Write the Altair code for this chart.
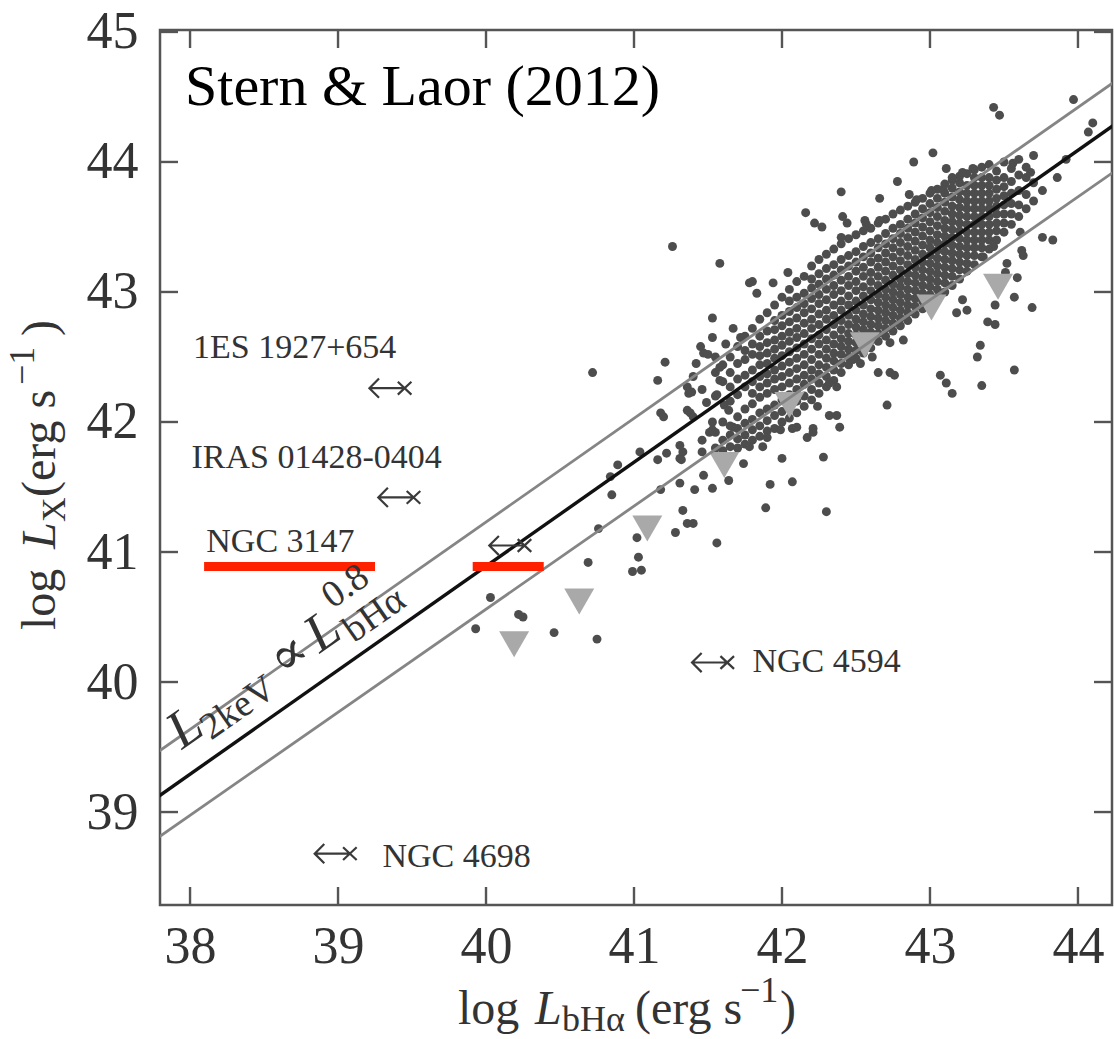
import altair as alt
import pandas as pd

SERIF = "Liberation Serif, DejaVu Serif, serif"

# ---------------- data ----------------
X_TICKS = [38, 39, 40, 41, 42, 43, 44]
Y_TICKS = [39, 40, 41, 42, 43, 44, 45]
X_DOMAIN = [37.797, 44.23]
Y_DOMAIN = [38.285, 45.015]

# fitted relation and its scatter band (end points)
FIT_X = [37.78, 44.25]
FIT_MID = [39.115, 44.29]
FIT_UP = [39.46, 44.62]
FIT_LO = [38.80, 43.93]

# upper limits (grey downward triangles)
TRI_X = [40.19, 40.63, 41.09, 41.61, 42.05, 42.56, 43.01, 43.46]
TRI_Y = [40.29, 40.62, 41.18, 41.67, 42.13, 42.59, 42.88, 43.04]

# named objects (x marks with left arrows)
OBJ_NAMES = ["1ES 1927+654", "IRAS 01428-0404", "NGC 3147", "NGC 4594", "NGC 4698"]
OBJ_X = [39.45, 39.51, 40.26, 41.63, 39.08]
OBJ_Y = [42.26, 41.42, 41.05, 40.15, 38.68]
OBJ_LABEL_X = [38.02, 38.01, 38.11, 41.80, 39.30]
OBJ_LABEL_Y = [42.49, 41.646, 41.00, 40.08, 38.58]

# red highlight bars
RED_X1 = [38.095, 39.91]
RED_X2 = [39.25, 40.39]
RED_Y = [40.888, 40.888]

# dense core of the AGN sample: (log L_bHa, [log L_X ...])
CORE = [
    (41.55, [41.80, 41.92, 42.20, 42.38]),
    (41.60, [41.78, 41.86, 42.00, 42.31, 42.44]),
    (41.65, [41.81, 41.90, 41.97, 42.16, 42.27, 42.50]),
    (41.70, [41.80, 41.87, 41.95, 42.04, 42.21, 42.33, 42.45, 42.58]),
    (41.75, [41.83, 41.90, 41.99, 42.10, 42.27, 42.36, 42.48, 42.55, 42.66]),
    (41.80, [41.86, 41.94, 42.02, 42.14, 42.22, 42.31, 42.40, 42.52, 42.60, 42.72]),
    (41.85, [41.89, 41.97, 42.07, 42.19, 42.27, 42.35, 42.44, 42.51, 42.58, 42.66, 42.79]),
    (41.90, [41.93, 42.01, 42.10, 42.22, 42.30, 42.37, 42.45, 42.53, 42.61, 42.70, 42.84]),
    (41.95, [41.95, 42.05, 42.13, 42.25, 42.33, 42.40, 42.49, 42.56, 42.63, 42.71, 42.78, 42.90]),
    (42.00, [42.00, 42.08, 42.17, 42.27, 42.35, 42.43, 42.51, 42.59, 42.66, 42.74, 42.82, 42.96]),
    (42.05, [42.03, 42.12, 42.21, 42.30, 42.38, 42.46, 42.54, 42.62, 42.69, 42.77, 42.85, 42.93, 43.02]),
    (42.10, [42.07, 42.16, 42.25, 42.33, 42.41, 42.49, 42.57, 42.65, 42.72, 42.80, 42.88, 42.96, 43.08]),
    (42.15, [42.12, 42.20, 42.29, 42.36, 42.44, 42.52, 42.60, 42.68, 42.76, 42.84, 42.91, 42.99, 43.12]),
    (42.20, [42.17, 42.25, 42.33, 42.40, 42.48, 42.56, 42.64, 42.72, 42.79, 42.87, 42.95, 43.03, 43.10, 43.20]),
    (42.25, [42.22, 42.30, 42.37, 42.44, 42.52, 42.60, 42.67, 42.75, 42.83, 42.91, 42.98, 43.06, 43.14, 43.25]),
    (42.30, [42.27, 42.35, 42.42, 42.49, 42.56, 42.63, 42.71, 42.79, 42.86, 42.94, 43.02, 43.10, 43.18, 43.29]),
    (42.35, [42.32, 42.40, 42.47, 42.53, 42.60, 42.67, 42.75, 42.82, 42.90, 42.98, 43.05, 43.13, 43.21, 43.33]),
    (42.40, [42.38, 42.45, 42.52, 42.58, 42.64, 42.71, 42.78, 42.86, 42.93, 43.01, 43.09, 43.17, 43.25, 43.37]),
    (42.45, [42.44, 42.50, 42.56, 42.62, 42.68, 42.75, 42.82, 42.90, 42.97, 43.05, 43.12, 43.20, 43.28, 43.41]),
    (42.50, [42.49, 42.55, 42.61, 42.67, 42.73, 42.79, 42.86, 42.93, 43.01, 43.08, 43.16, 43.23, 43.31, 43.44]),
    (42.55, [42.53, 42.59, 42.65, 42.71, 42.77, 42.83, 42.90, 42.97, 43.04, 43.12, 43.19, 43.27, 43.35, 43.47]),
    (42.60, [42.57, 42.63, 42.69, 42.75, 42.81, 42.87, 42.94, 43.01, 43.08, 43.15, 43.23, 43.30, 43.38, 43.49]),
    (42.65, [42.62, 42.68, 42.74, 42.80, 42.86, 42.92, 42.98, 43.05, 43.12, 43.19, 43.26, 43.34, 43.41, 43.53]),
    (42.70, [42.66, 42.72, 42.78, 42.84, 42.90, 42.96, 43.02, 43.09, 43.16, 43.23, 43.30, 43.37, 43.45, 43.56]),
    (42.75, [42.70, 42.76, 42.82, 42.88, 42.94, 43.00, 43.06, 43.13, 43.20, 43.27, 43.34, 43.41, 43.49, 43.60]),
    (42.80, [42.74, 42.80, 42.86, 42.92, 42.98, 43.04, 43.10, 43.17, 43.24, 43.31, 43.38, 43.45, 43.52, 43.63]),
    (42.85, [42.78, 42.84, 42.90, 42.96, 43.02, 43.08, 43.14, 43.21, 43.28, 43.35, 43.42, 43.49, 43.56, 43.66]),
    (42.90, [42.83, 42.89, 42.95, 43.01, 43.07, 43.13, 43.19, 43.25, 43.32, 43.39, 43.46, 43.53, 43.60, 43.69]),
    (42.95, [42.87, 42.93, 42.99, 43.05, 43.11, 43.17, 43.23, 43.29, 43.36, 43.43, 43.50, 43.57, 43.64, 43.72]),
    (43.00, [42.92, 42.98, 43.04, 43.10, 43.16, 43.22, 43.28, 43.34, 43.40, 43.47, 43.54, 43.61, 43.68, 43.76]),
    (43.05, [42.96, 43.02, 43.08, 43.14, 43.20, 43.26, 43.32, 43.38, 43.44, 43.51, 43.58, 43.65, 43.72, 43.79]),
    (43.10, [43.00, 43.07, 43.13, 43.19, 43.25, 43.31, 43.37, 43.43, 43.49, 43.55, 43.62, 43.69, 43.76, 43.83]),
    (43.15, [43.05, 43.12, 43.18, 43.24, 43.30, 43.36, 43.42, 43.48, 43.54, 43.60, 43.66, 43.73, 43.80, 43.86]),
    (43.20, [43.10, 43.17, 43.23, 43.29, 43.35, 43.41, 43.47, 43.53, 43.59, 43.65, 43.71, 43.77, 43.84, 43.89]),
    (43.25, [43.16, 43.22, 43.28, 43.34, 43.40, 43.46, 43.52, 43.58, 43.64, 43.70, 43.76, 43.82, 43.91]),
    (43.30, [43.21, 43.28, 43.34, 43.40, 43.46, 43.52, 43.58, 43.64, 43.70, 43.76, 43.82, 43.88, 43.94]),
    (43.35, [43.27, 43.34, 43.40, 43.46, 43.52, 43.58, 43.64, 43.70, 43.76, 43.82, 43.88, 43.96]),
    (43.40, [43.33, 43.40, 43.46, 43.52, 43.58, 43.64, 43.70, 43.76, 43.82, 43.88, 43.98]),
    (43.45, [43.40, 43.47, 43.53, 43.60, 43.66, 43.72, 43.79, 43.86, 43.93]),
    (43.50, [43.46, 43.53, 43.60, 43.67, 43.74, 43.81, 43.88, 44.00]),
    (43.55, [43.52, 43.60, 43.68, 43.76, 43.85, 43.95]),
    (43.60, [43.58, 43.67, 43.78, 43.90, 44.02]),
    (43.65, [43.64, 43.75, 43.88]),
    (43.70, [43.70, 43.84]),
]

# scattered objects around the core
OUTLIERS = [
    (39.93, 40.41), (40.03, 40.65), (40.22, 40.52), (40.25, 40.50), (40.46, 40.38),
    (40.75, 40.33), (40.69, 40.92), (40.76, 41.18), (40.72, 42.38), (40.84, 41.58),
    (40.85, 41.44), (40.89, 41.67), (41.02, 41.11), (41.03, 40.96), (40.99, 40.85),
    (41.05, 40.86), (41.04, 41.77), (41.16, 41.71), (41.22, 41.76), (41.31, 41.72),
    (41.28, 41.15), (41.36, 41.22), (41.40, 41.22), (41.33, 41.32), (41.56, 41.07),
    (41.18, 41.48), (41.31, 41.53), (41.41, 41.48), (41.53, 41.49), (41.64, 41.55),
    (41.74, 41.68), (41.47, 41.59), (41.18, 42.07), (41.20, 42.04), (41.36, 42.09),
    (41.38, 42.07), (41.40, 42.04), (41.37, 42.22), (41.46, 42.25), (41.49, 42.15),
    (41.56, 42.21), (41.61, 42.13), (41.64, 42.09), (41.53, 42.00), (41.51, 41.92),
    (41.46, 41.86), (41.46, 41.77), (41.33, 41.77), (41.31, 41.82), (41.32, 41.71),
    (41.26, 43.35), (41.58, 43.22), (41.53, 42.80), (41.53, 42.65), (41.47, 42.53),
    (41.50, 42.52), (41.21, 42.46), (41.16, 42.32), (41.36, 42.27), (41.39, 42.23),
    (41.45, 42.58), (41.55, 42.50), (41.58, 42.32), (41.65, 42.38), (41.67, 42.72),
    (41.72, 42.65), (41.62, 42.60), (41.42, 42.45), (41.40, 42.35), (41.58, 42.42),
    (41.92, 41.52), (42.07, 41.54), (41.89, 41.34), (42.00, 41.72), (42.28, 41.73),
    (42.30, 41.31), (42.24, 42.12), (42.32, 42.05), (42.37, 42.05), (42.39, 41.96),
    (42.21, 41.95), (42.17, 41.88), (42.07, 41.95), (42.71, 42.13), (42.73, 42.38),
    (42.76, 42.36), (42.65, 42.38), (43.07, 42.36), (43.11, 42.30), (43.15, 42.22),
    (43.35, 42.28), (43.57, 42.40), (43.34, 42.59), (43.32, 42.50), (43.39, 42.77),
    (43.44, 42.75), (43.44, 42.90), (43.57, 42.96), (43.69, 42.88), (43.22, 42.94),
    (43.25, 42.86), (43.18, 42.84), (42.82, 42.63), (42.73, 42.61), (42.37, 42.27),
    (42.32, 42.30), (42.21, 41.92), (41.78, 41.81), (41.87, 41.81),
    (41.90, 41.88), (41.99, 41.94), (42.10, 41.96), (41.67, 41.96), (41.53, 41.94),
    (42.53, 42.45), (42.48, 42.48), (42.61, 42.50),
    (43.52, 43.22), (43.51, 43.15), (43.59, 43.11), (43.43, 43.35), (43.36, 43.27),
    (43.61, 43.46), (43.62, 43.32), (43.63, 43.28), (43.76, 43.42), (43.83, 43.40),
    (43.86, 43.88), (43.92, 44.02), (43.76, 43.78), (43.70, 44.05), (43.68, 43.92),
    (43.65, 43.96), (43.56, 43.99),
    (43.97, 44.48), (43.43, 44.42), (43.47, 44.36), (44.10, 44.30), (44.07, 44.23),
    (43.02, 44.07), (42.89, 44.00), (43.11, 43.95), (43.15, 43.88), (43.22, 43.92),
    (43.29, 43.95), (42.78, 43.85), (42.40, 43.77), (42.66, 43.72), (42.86, 43.75),
    (42.91, 43.71), (43.01, 43.78), (43.09, 43.79), (42.16, 43.61), (42.22, 43.53),
    (42.27, 43.50), (42.40, 43.42), (42.41, 43.58), (42.44, 43.53), (42.56, 43.55),
    (42.57, 43.52), (42.66, 43.55), (42.04, 43.15), (41.80, 43.08), (41.78, 43.07),
    (41.94, 43.07), (41.83, 42.99),
]

# ---------------- layout constants ----------------
W, H = 952, 875
AX = "#555555"
TXT = "#333333"

XS = alt.Scale(domain=X_DOMAIN, nice=False, zero=False)
YS = alt.Scale(domain=Y_DOMAIN, nice=False, zero=False)
XAX = alt.Axis(values=X_TICKS, labelFont=SERIF, labelFontSize=52, labelColor=TXT,
               ticks=False, tickSize=0, domain=False, grid=False, labelPadding=16,
               labelFlush=False, labelOverlap=False, title=None, format="d")
YAX = alt.Axis(values=Y_TICKS, labelFont=SERIF, labelFontSize=52, labelColor=TXT,
               ticks=False, tickSize=0, domain=False, grid=False, labelPadding=22,
               labelFlush=False, labelOverlap=False, title=None, format="d")


def X(f):
    return alt.X(f, type="quantitative", scale=XS, axis=XAX)


def Y(f):
    return alt.Y(f, type="quantitative", scale=YS, axis=YAX)


ONE = pd.DataFrame({"a": [0]})

pts = pd.DataFrame(
    [(x, y) for x, ys in CORE for y in ys] + list(OUTLIERS), columns=["x", "y"]
)
points = alt.Chart(pts).mark_circle(size=80, color="#4d4d4d", opacity=1).encode(x=X("x"), y=Y("y"))

tri = alt.Chart(pd.DataFrame({"x": TRI_X, "y": TRI_Y})).mark_point(
    shape="triangle-down", size=900, filled=True, color="#a9a9a9", opacity=1
).encode(x=X("x"), y=Y("y"))


def fit_line(ys, color, width):
    df = pd.DataFrame({"x": FIT_X, "y": ys})
    return alt.Chart(df).mark_line(color=color, strokeWidth=width, clip=True).encode(x=X("x"), y=Y("y"))


lines = [fit_line(FIT_UP, "#858585", 2.8), fit_line(FIT_LO, "#858585", 2.8), fit_line(FIT_MID, "#111111", 3.4)]

ARROW = ("M -4.4 0 L 0 0 M -3.2 -1.2 L -4.4 0 L -3.2 1.2 "
         "M -0.85 -0.8 L 0.85 0.8 M -0.85 0.8 L 0.85 -0.8")
objs = alt.Chart(pd.DataFrame({"x": OBJ_X, "y": OBJ_Y})).mark_point(
    shape=ARROW, size=256, filled=False, color="#3a3a3a", strokeWidth=2.2, opacity=1
).encode(x=X("x"), y=Y("y"))

obj_labels = alt.Chart(pd.DataFrame({"x": OBJ_LABEL_X, "y": OBJ_LABEL_Y, "t": OBJ_NAMES})).mark_text(
    align="left", baseline="alphabetic", font=SERIF, fontSize=34, color=TXT
).encode(x=X("x"), y=Y("y"), text="t:N")

red = alt.Chart(pd.DataFrame({"x1": RED_X1, "x2": RED_X2, "y": RED_Y})).mark_rule(
    color="#ff2200", strokeWidth=9
).encode(x=X("x1"), x2="x2:Q", y=Y("y"))

title = alt.Chart(pd.DataFrame({"x": [37.966], "y": [44.44], "t": ["Stern & Laor (2012)"]})).mark_text(
    align="left", baseline="alphabetic", font=SERIF, fontSize=58, color="#000000"
).encode(x=X("x"), y=Y("y"), text="t:N")

# inward ticks on all four sides
xt = pd.DataFrame({"t": X_TICKS})
yt = pd.DataFrame({"t": Y_TICKS})
tick_kw = dict(color=AX, strokeWidth=2.4)
ticks = [
    alt.Chart(xt).mark_rule(**tick_kw).encode(x=X("t"), y=alt.value(H), y2=alt.value(H - 18)),
    alt.Chart(xt).mark_rule(**tick_kw).encode(x=X("t"), y=alt.value(0), y2=alt.value(18)),
    alt.Chart(yt).mark_rule(**tick_kw).encode(y=Y("t"), x=alt.value(0), x2=alt.value(18)),
    alt.Chart(yt).mark_rule(**tick_kw).encode(y=Y("t"), x=alt.value(W), x2=alt.value(W - 18)),
]


def rich_data(pieces, x0, y0, angle, color):
    out = []
    for t, dx, dy, fs, style in pieces:
        kw = dict(text=t, font=SERIF, fontSize=fs, fontStyle=style, align="left",
                  baseline="alphabetic", dx=dx, dy=dy, color=color)
        if angle:
            kw["angle"] = angle
        out.append(alt.Chart(pd.DataFrame({"x": [x0], "y": [y0]})).mark_text(**kw).encode(x=X("x"), y=Y("y")))
    return out


def rich_px(pieces, px, py, angle, color):
    out = []
    for t, dx, dy, fs, style in pieces:
        kw = dict(text=t, font=SERIF, fontSize=fs, fontStyle=style, align="left",
                  baseline="alphabetic", dx=dx, dy=dy, color=color)
        if angle:
            kw["angle"] = angle
        out.append(alt.Chart(ONE).mark_text(**kw).encode(x=alt.value(px), y=alt.value(py)))
    return out


formula = rich_data([
    ("L", 0, 0, 54, "italic"),
    ("2keV", 29, 9, 38, "normal"),
    ("∝", 124, 0, 54, "normal"),
    ("L", 168, 0, 54, "italic"),
    ("bHα", 202, 11, 38, "normal"),
    ("0.8", 204, -29, 38, "normal"),
], 37.946, 39.477, 325, TXT)

xtitle = rich_px([
    ("log", 0, 0, 48, "normal"),
    ("L", 77, 0, 48, "italic"),
    ("bHα", 104, 7, 36, "normal"),
    ("(erg s", 177, 0, 48, "normal"),
    ("−1", 282, -22, 36, "normal"),
    (")", 322, 0, 48, "normal"),
], 458 - 160, 1024 - 30, 0, TXT)

ytitle = rich_px([
    ("log", 0, 0, 48, "normal"),
    ("L", 81, 0, 48, "italic"),
    ("X", 108, 10, 34, "normal"),
    ("(erg s", 133, 0, 48, "normal"),
    ("−1", 245, -21, 36, "normal"),
    (")", 294, 0, 48, "normal"),
], 55 - 160, 630 - 30, 270, TXT)

chart = alt.layer(
    points, tri, *lines, objs, obj_labels, red, title, *ticks, *formula, *xtitle, *ytitle
).properties(
    width=W, height=H,
    autosize=alt.AutoSizeParams(type="none"),
    padding={"left": 160, "top": 30, "right": 2, "bottom": 134},
).configure(background="white").configure_view(stroke=AX, strokeWidth=2.5)

chart.save("out.html", embed_options={"renderer": "svg", "actions": False})
